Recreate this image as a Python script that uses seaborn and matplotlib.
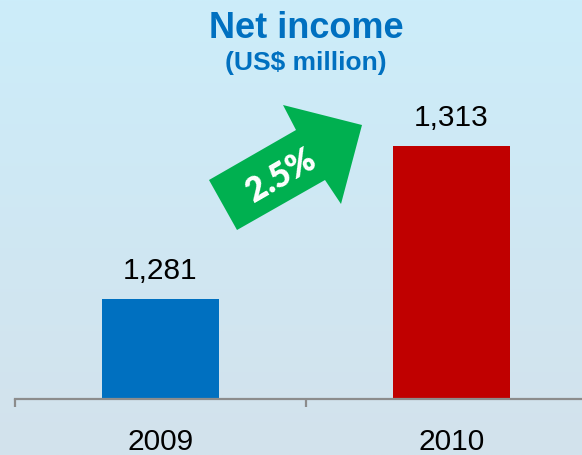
import numpy as np
import matplotlib
matplotlib.use("Agg")
import matplotlib.pyplot as plt
from matplotlib.patches import Polygon
import seaborn as sns

# Data
years = ["2009", "2010"]
net_income = [1281, 1313]
bar_colors = ["#0070C0", "#C00000"]
growth_label = "2.5%"
title = "Net income"
subtitle = "(US$ million)"

sns.set_theme(style="white")
plt.rcParams["font.family"] = ["Liberation Sans", "DejaVu Sans"]

W, H = 582, 455
fig = plt.figure(figsize=(W / 100, H / 100), dpi=100)

# Soft sky gradient behind everything
bg = fig.add_axes([0, 0, 1, 1], zorder=-10)
top_c = np.array([204, 237, 250]) / 255
bot_c = np.array([211, 226, 236]) / 255
t = np.linspace(0, 1, 256)[:, None]
grad = top_c[None, :] * (1 - t) + bot_c[None, :] * t
bg.imshow(grad[:, None, :].repeat(2, axis=1), aspect="auto", extent=[0, 1, 0, 1])
bg.set_axis_off()

# Plot area: x from -0.5..1.5 spans 15..597 px, baseline at 399 px
ax = fig.add_axes([15 / W, (H - 399) / H, 582 / W, 339 / H])
ax.patch.set_alpha(0)
sns.barplot(x=years, y=net_income, hue=years, palette=bar_colors,
            width=0.4, legend=False, ax=ax, saturation=1, linewidth=0)
ax.set_xlim(-0.5, 1.5)
ax.set_ylim(1260, 1331)

for c in ax.containers:
    ax.bar_label(c, labels=[f"{v:,.0f}" for v in c.datavalues],
                 padding=10, fontsize=21.5, color="black")

for s in ["top", "left", "right"]:
    ax.spines[s].set_visible(False)
ax.spines["bottom"].set_color("#8C8C8C")
ax.spines["bottom"].set_linewidth(1.6)
ax.set_yticks([])
ax.set_xlabel("")
ax.set_ylabel("")
ax.set_xticks([0, 1])
ax.set_xticklabels(years, fontsize=21.5, color="black")
ax.tick_params(axis="x", which="major", length=0, pad=21)
ax.set_xticks([-0.5, 0.5, 1.5], minor=True)
ax.tick_params(axis="x", which="minor", length=6, width=1.6, color="#8C8C8C",
               direction="out", bottom=True)

# Titles
fig.text(306 / W, 1 - 11 / H, title, ha="center", va="top",
         fontsize=26, fontweight="bold", color="#0070C0")
fig.text(306 / W, 1 - 51 / H, subtitle, ha="center", va="top",
         fontsize=19, fontweight="bold", color="#0070C0")

# Growth arrow
pts_px = [(209, 180), (237, 230), (325, 180), (341, 204),
          (362, 125), (283, 105), (296, 130)]
pts = [(x / W, 1 - y / H) for x, y in pts_px]
fig.patches.append(Polygon(pts, closed=True, facecolor="#00B050",
                           edgecolor="none", transform=fig.transFigure,
                           figure=fig, zorder=5))
fig.text(281 / W, 1 - 176 / H, growth_label, ha="center", va="center",
         rotation=30, rotation_mode="anchor", fontsize=24, fontweight="heavy",
         color="white", family=["Lato", "DejaVu Sans"], zorder=6)

fig.savefig("out.png", dpi=100)
